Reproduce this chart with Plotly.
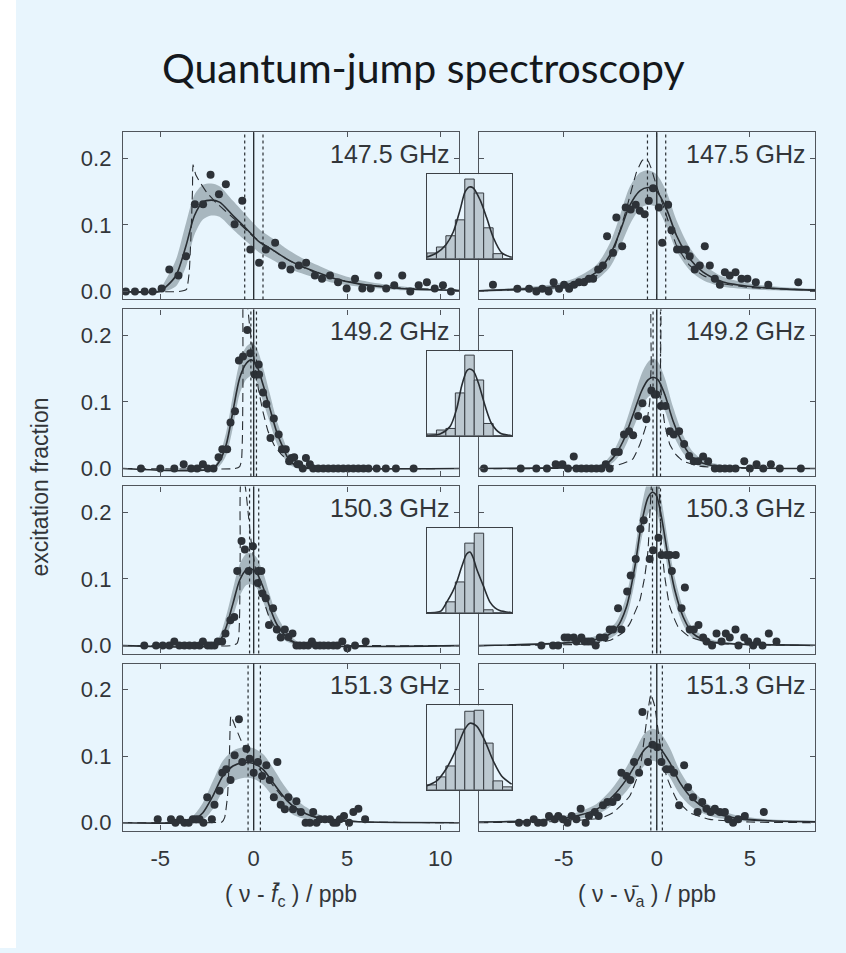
import plotly.graph_objects as go

W, H = 846, 953

# ---------------- data ----------------
FREQ_LABELS = ["147.5 GHz", "149.2 GHz", "150.3 GHz", "151.3 GHz"]
X_TICKS_LEFT = [-5, 0, 5, 10]
X_TICK_TEXT_LEFT = ["-5", "0", "5", "10"]
X_TICKS_RIGHT = [-5, 0, 5]
X_TICK_TEXT_RIGHT = ["-5", "0", "5"]
Y_TICKS = [0.0, 0.1, 0.2]
Y_TICK_TEXT = ["0.0", "0.1", "0.2"]

# ---- row 1 (147.5 GHz), left: cyclotron detuning ----
P1L_DOT_X = [-6.85, -6.36, -5.84, -5.41, -4.93, -4.52, -4.03, -3.62, -3.15, -2.71, -2.31, -1.86, -1.49, -1.02, -0.61, -0.18, 0.29, 0.65, 1.15, 1.52, 1.97, 2.42, 2.81, 3.28, 3.66, 4.09, 4.52, 4.98, 5.43, 5.82, 6.27, 6.67, 7.10, 7.53, 7.96, 8.39, 8.84, 9.28, 9.70, 10.14, 10.57]
P1L_DOT_Y = [0, 0, 0, 0, 0.0045, 0.033, 0.024, 0.053, 0.131, 0.131, 0.175, 0.146, 0.161, 0.101, 0.136, 0.063, 0.043, 0.063, 0.073, 0.039, 0.033, 0.039, 0.043, 0.024, 0.019, 0.024, 0.014, 0.0045, 0.019, 0.0045, 0.0045, 0.024, 0.0045, 0.0095, 0.024, 0, 0.0095, 0.014, 0.0045, 0.0095, 0]
P1L_FIT_X = [-7, -5.05, -4.70, -4.16, -3.62, -3.17, -2.72, -2.28, -1.83, -1.11, -0.39, 0.32, 1.04, 1.76, 2.47, 3.37, 4.27, 5.16, 6.06, 6.95, 7.85, 9.64, 11]
P1L_FIT_Y = [0, 0, 0.007, 0.024, 0.069, 0.114, 0.134, 0.137, 0.134, 0.114, 0.094, 0.074, 0.062, 0.049, 0.039, 0.029, 0.020, 0.014, 0.0095, 0.007, 0.0045, 0.0025, 0.0015]
P1L_BAND_HI = [0, 0.004, 0.018, 0.048, 0.103, 0.145, 0.16, 0.162, 0.158, 0.136, 0.114, 0.093, 0.079, 0.064, 0.052, 0.040, 0.029, 0.021, 0.015, 0.011, 0.008, 0.004, 0.003]
P1L_BAND_LO = [0, 0, 0.001, 0.008, 0.038, 0.085, 0.108, 0.114, 0.112, 0.093, 0.075, 0.058, 0.047, 0.036, 0.028, 0.020, 0.013, 0.009, 0.006, 0.004, 0.002, 0.001, 0.0005]
P1L_DASH_X = [-7, -4.0, -3.6, -3.45, -3.35, -3.28, -3.25, -3.1, -2.9, -2.5, -2.0, -1.0, 0, 1, 2, 3, 4, 5, 6, 8, 11]
P1L_DASH_Y = [0, 0, 0.003, 0.03, 0.09, 0.15, 0.19, 0.175, 0.165, 0.148, 0.133, 0.108, 0.082, 0.062, 0.045, 0.032, 0.022, 0.015, 0.010, 0.005, 0.002]

# ---- row 1, right: axial detuning ----
P1R_DOT_X = [-8.80, -7.49, -6.86, -6.47, -6.15, -5.81, -5.54, -5.25, -4.98, -4.71, -4.44, -4.18, -3.91, -3.64, -3.42, -3.15, -2.89, -2.67, -2.35, -2.17, -1.86, -1.67, -1.40, -1.13, -0.91, -0.65, -0.43, -0.20, 0.11, 0.29, 0.61, 0.79, 1.09, 1.33, 1.56, 1.77, 2.04, 2.31, 2.58, 2.85, 3.12, 3.39, 3.66, 3.92, 4.23, 4.55, 4.87, 5.32, 5.99, 7.60]
P1R_DOT_Y = [0.010, 0.004, 0.004, 0, 0.004, 0, 0.014, 0.004, 0.010, 0.004, 0.010, 0.014, 0.014, 0.019, 0.019, 0.033, 0.039, 0.083, 0.058, 0.111, 0.068, 0.126, 0.123, 0.130, 0.121, 0.116, 0.136, 0.155, 0.126, 0.073, 0.130, 0.092, 0.063, 0.063, 0.063, 0.053, 0.033, 0.039, 0.068, 0.039, 0.019, 0.010, 0.029, 0.024, 0.029, 0.019, 0.019, 0.014, 0.010, 0.014]
P1R_FIT_X = [-9.55, -7.37, -5.57, -4.32, -3.24, -2.53, -1.99, -1.45, -0.91, -0.47, -0.02, 0.52, 1.06, 1.77, 2.49, 3.57, 5.18, 6.97, 8.5]
P1R_FIT_Y = [0.001, 0.0035, 0.007, 0.0144, 0.029, 0.054, 0.089, 0.129, 0.151, 0.156, 0.151, 0.124, 0.084, 0.049, 0.029, 0.0144, 0.007, 0.0035, 0.002]
P1R_BAND_HI = [0.002, 0.006, 0.011, 0.021, 0.040, 0.072, 0.113, 0.157, 0.178, 0.182, 0.176, 0.150, 0.107, 0.066, 0.041, 0.022, 0.011, 0.006, 0.004]
P1R_BAND_LO = [0, 0.001, 0.003, 0.008, 0.018, 0.036, 0.065, 0.100, 0.124, 0.130, 0.126, 0.098, 0.061, 0.032, 0.017, 0.007, 0.003, 0.001, 0.0005]
P1R_DASH_X = [-9.55, -6, -4.5, -3.5, -2.9, -2.35, -1.63, -1.09, -0.8, -0.62, -0.45, -0.29, -0.02, 0.52, 1.06, 1.77, 2.49, 3.5, 5, 8.5]
P1R_DASH_Y = [0.001, 0.004, 0.009, 0.018, 0.032, 0.059, 0.124, 0.179, 0.196, 0.2, 0.195, 0.184, 0.159, 0.114, 0.069, 0.039, 0.024, 0.012, 0.006, 0.002]

# ---- row 2 (149.2 GHz), left ----
P2L_DOT_X = [-6.04, -5.0, -4.25, -3.75, -3.35, -3.03, -2.72, -2.46, -2.15, -1.88, -1.68, -1.42, -1.24, -1.00, -0.79, -0.57, -0.34, -0.18, 0.05, 0.27, 0.29, 0.50, 0.68, 0.90, 1.08, 1.34, 1.52, 1.72, 1.90, 2.03, 2.17, 2.35, 2.44, 2.63, 2.80, 3.01, 3.19, 3.46, 3.73, 4.0, 4.27, 4.53, 4.80, 5.07, 5.34, 5.61, 5.88, 6.15, 6.59, 7.08, 7.62, 8.57]
P2L_DOT_Y = [0, 0, 0, 0.0065, 0, 0, 0.0065, 0, 0, 0.017, 0.029, 0.029, 0.069, 0.086, 0.162, 0.168, 0.208, 0.173, 0.141, 0.156, 0.141, 0.114, 0.097, 0.046, 0.075, 0.051, 0.029, 0.029, 0.011, 0.016, 0.017, 0.0065, 0.0065, 0, 0.016, 0.0065, 0, 0, 0, 0, 0, 0, 0, 0, 0, 0, 0, 0, 0, 0, 0, 0]
P2L_FIT_X = [-7, -2.19, -1.83, -1.47, -1.11, -0.75, -0.39, -0.13, 0.14, 0.50, 0.86, 1.22, 1.58, 1.94, 2.47, 3.2, 11]
P2L_FIT_Y = [0, 0, 0.011, 0.036, 0.086, 0.136, 0.158, 0.163, 0.156, 0.126, 0.091, 0.056, 0.031, 0.011, 0.0015, 0, 0]
P2L_BAND_HI = [0, 0.002, 0.02, 0.055, 0.11, 0.16, 0.183, 0.188, 0.182, 0.152, 0.113, 0.074, 0.045, 0.020, 0.005, 0, 0]
P2L_BAND_LO = [0, 0, 0.004, 0.020, 0.062, 0.112, 0.134, 0.139, 0.131, 0.101, 0.070, 0.039, 0.018, 0.005, 0, 0, 0]
P2L_DASH_X = [-7, -1.0, -0.75, -0.65, -0.6, -0.57, -0.55, -0.4, -0.2, 0.0, 0.25, 0.5, 0.77, 1.1, 1.49, 2.0, 2.8, 11]
P2L_DASH_Y = [0, 0, 0.003, 0.012, 0.05, 0.15, 0.27, 0.26, 0.21, 0.17, 0.12, 0.085, 0.056, 0.035, 0.021, 0.009, 0.002, 0]

# ---- row 2, right ----
P2R_DOT_X = [-9.28, -7.31, -6.47, -5.90, -5.43, -5.07, -4.77, -4.46, -4.32, -4.05, -3.78, -3.51, -3.24, -2.97, -2.74, -2.53, -2.26, -2.04, -1.76, -1.49, -1.27, -1.0, -0.77, -0.56, -0.29, -0.11, -0.02, 0.22, 0.47, 0.70, 0.91, 1.20, 1.47, 1.74, 1.99, 2.22, 2.49, 2.76, 3.12, 3.39, 3.66, 3.92, 4.23, 4.70, 5.0, 5.36, 5.72, 6.13, 6.61, 7.74]
P2R_DOT_Y = [0, 0, 0, 0, 0.0065, 0.0065, 0, 0.018, 0, 0, 0, 0, 0, 0, 0.0065, 0, 0.025, 0.025, 0.051, 0.056, 0.050, 0.079, 0.098, 0.074, 0.117, 0.111, 0.111, 0.094, 0.094, 0.056, 0.051, 0.056, 0.037, 0.019, 0.011, 0.011, 0.018, 0.011, 0, 0, 0, 0, 0, 0.011, 0, 0.0065, 0, 0.0065, 0, 0]
P2R_FIT_X = [-9.55, -5, -3.5, -2.89, -2.35, -1.81, -1.27, -0.82, -0.47, -0.2, 0.07, 0.43, 0.88, 1.42, 1.95, 2.67, 4.28, 8.5]
P2R_FIT_Y = [0, 0.001, 0.002, 0.004, 0.016, 0.041, 0.081, 0.116, 0.133, 0.137, 0.133, 0.111, 0.071, 0.036, 0.016, 0.0065, 0.0015, 0]
P2R_BAND_HI = [0, 0.002, 0.004, 0.008, 0.025, 0.057, 0.103, 0.142, 0.160, 0.165, 0.160, 0.136, 0.092, 0.050, 0.025, 0.011, 0.003, 0]
P2R_BAND_LO = [0, 0, 0.001, 0.002, 0.009, 0.027, 0.060, 0.091, 0.107, 0.111, 0.107, 0.087, 0.051, 0.023, 0.008, 0.003, 0.0005, 0]
P2R_DASH_X = [-9.55, -3, -2, -1.3, -0.91, -0.56, -0.38, -0.3, -0.25, 0.15, 0.2, 0.25, 0.43, 0.70, 1.0, 1.42, 2.2, 3.5, 8.5]
P2R_DASH_Y = [0, 0.001, 0.006, 0.014, 0.036, 0.066, 0.10, 0.16, 0.27, 0.27, 0.15, 0.106, 0.066, 0.036, 0.022, 0.011, 0.004, 0.001, 0]

# ---- row 3 (150.3 GHz), left ----
P3L_DOT_X = [-5.86, -5.23, -4.87, -4.52, -4.25, -3.98, -3.71, -3.44, -3.17, -2.90, -2.72, -2.46, -2.28, -2.10, -1.92, -1.69, -1.51, -1.25, -1.04, -0.88, -0.65, -0.47, -0.27, -0.04, 0.23, 0.41, 0.22, 0.47, 0.65, 0.82, 1.04, 1.24, 1.45, 1.67, 1.86, 2.08, 2.29, 2.47, 2.69, 2.92, 3.12, 3.33, 3.55, 3.76, 4.0, 4.27, 4.48, 4.75, 5.02, 5.43, 6.0]
P3L_DOT_Y = [0, 0, 0, 0, 0.006, 0, 0, 0, 0, 0, 0.006, 0, 0, 0, 0.006, 0.006, 0.018, 0.038, 0.043, 0.112, 0.157, 0.144, 0.112, 0.149, 0.112, 0.112, 0.094, 0.078, 0.071, 0.031, 0.056, 0.024, 0.012, 0.024, 0.013, 0.018, 0, 0, 0, 0, 0.006, 0, 0, 0, 0, 0, 0, 0.006, -0.004, 0, 0.006]
P3L_FIT_X = [-7, -2.19, -1.83, -1.47, -1.11, -0.75, -0.39, -0.13, 0.14, 0.50, 0.86, 1.22, 1.76, 2.29, 2.83, 11]
P3L_FIT_Y = [0, 0, 0.006, 0.028, 0.063, 0.098, 0.114, 0.115, 0.110, 0.088, 0.058, 0.033, 0.013, 0.0035, 0, 0]
P3L_BAND_HI = [0, 0.002, 0.014, 0.045, 0.085, 0.122, 0.138, 0.139, 0.133, 0.110, 0.077, 0.047, 0.021, 0.007, 0.001, 0]
P3L_BAND_LO = [0, 0, 0.002, 0.014, 0.043, 0.074, 0.091, 0.092, 0.087, 0.066, 0.040, 0.020, 0.006, 0.001, 0, 0]
P3L_DASH_X = [-7, -1.2, -0.9, -0.8, -0.75, -0.72, -0.68, -0.5, -0.3, -0.13, 0.1, 0.4, 0.8, 1.2, 1.7, 2.5, 11]
P3L_DASH_Y = [0, 0, 0.003, 0.012, 0.05, 0.15, 0.245, 0.245, 0.2, 0.155, 0.115, 0.08, 0.045, 0.025, 0.01, 0.002, 0]

# ---- row 3, right ----
P3R_DOT_X = [-6.20, -5.57, -5.30, -4.95, -4.77, -4.46, -4.32, -4.05, -3.87, -3.69, -3.51, -3.28, -3.06, -2.80, -2.53, -2.35, -2.08, -1.90, -1.59, -1.40, -1.13, -0.88, -0.70, -0.38, -0.20, 0.09, 0.25, 0.52, 0.70, 1.02, 0.81, 1.51, 1.33, 1.77, 1.99, 2.24, 2.49, 2.67, 2.97, 3.21, 3.48, 3.71, 3.92, 4.23, 4.39, 4.70, 4.91, 5.18, 5.39, 5.68, 6.02, 6.43]
P3R_DOT_Y = [0, 0, 0, 0.012, 0.012, 0.012, 0.006, 0.012, 0.006, 0.006, 0.006, 0, 0.012, 0.012, 0.024, 0.024, 0.056, 0.024, 0.081, 0.105, 0.130, 0.175, 0.188, 0.130, 0.143, 0.162, 0.136, 0.136, 0.136, 0.136, 0.112, 0.087, 0.056, 0.024, 0.024, 0.031, 0.012, 0.006, 0, 0.018, 0.006, 0.018, 0.012, 0.024, 0, 0.012, 0.006, 0, 0.006, 0, 0.018, 0.006]
P3R_FIT_X = [-9.55, -4.68, -2.89, -2.17, -1.63, -1.18, -0.82, -0.47, -0.23, -0.02, 0.25, 0.61, 0.97, 1.42, 1.95, 2.85, 4.28, 8.5]
P3R_FIT_Y = [0, 0.0045, 0.012, 0.026, 0.058, 0.118, 0.183, 0.222, 0.23, 0.225, 0.193, 0.133, 0.083, 0.043, 0.018, 0.006, 0.0025, 0.0005]
P3R_BAND_HI = [0.001, 0.007, 0.018, 0.036, 0.075, 0.142, 0.208, 0.248, 0.256, 0.25, 0.218, 0.156, 0.102, 0.056, 0.026, 0.010, 0.004, 0.001]
P3R_BAND_LO = [0, 0.002, 0.007, 0.017, 0.043, 0.096, 0.160, 0.198, 0.205, 0.200, 0.170, 0.112, 0.066, 0.031, 0.011, 0.003, 0.001, 0]
P3R_DASH_X = [-9.55, -4, -2.5, -1.8, -1.45, -0.91, -0.65, -0.47, -0.38, -0.29, -0.2, 0.0, 0.15, 0.25, 0.43, 0.70, 1.15, 1.77, 3, 8.5]
P3R_DASH_Y = [0, 0.002, 0.008, 0.02, 0.033, 0.068, 0.103, 0.143, 0.193, 0.24, 0.28, 0.28, 0.22, 0.153, 0.103, 0.058, 0.028, 0.013, 0.004, 0]

# ---- row 4 (151.3 GHz), left ----
P4L_DOT_X = [-5.14, -4.43, -4.19, -3.94, -3.71, -3.48, -3.26, -3.08, -2.90, -2.69, -2.49, -2.24, -2.10, -1.83, -1.68, -1.47, -1.24, -1.02, -0.79, -0.61, -0.39, -0.22, 0, 0.23, 0.45, 0.68, 0.86, 1.08, 1.27, 1.45, 1.67, 1.86, 2.11, 2.29, 2.53, 2.78, 3.01, 3.19, 3.37, 3.55, 3.82, 4.09, 4.27, 4.44, 4.62, 4.84, 5.11, 5.34, 5.61, 5.97]
P4L_DOT_Y = [0.005, 0.005, 0, 0.005, 0, 0, 0.005, 0.005, 0.005, 0, 0.038, 0.005, 0.027, 0.048, 0.075, 0.080, 0.064, 0.101, 0.155, 0.091, 0.111, 0.096, 0.075, 0.091, 0.070, 0.086, 0.064, 0.038, 0.091, 0.027, 0.020, 0.038, 0.020, 0.032, 0.016, 0, 0, 0.016, 0, 0.005, 0.005, 0.005, 0, 0, 0.005, 0.010, 0, 0.016, 0.021, 0.005]
P4L_FIT_X = [-7, -3.8, -3.26, -2.72, -2.19, -1.65, -1.11, -0.57, -0.04, 0.50, 1.04, 1.58, 2.11, 2.83, 3.55, 4.62, 6.06, 11]
P4L_FIT_Y = [0, 0, 0.003, 0.015, 0.040, 0.070, 0.085, 0.090, 0.089, 0.080, 0.060, 0.040, 0.025, 0.013, 0.0065, 0.003, 0.001, 0]
P4L_BAND_HI = [0, 0.003, 0.010, 0.030, 0.062, 0.093, 0.108, 0.113, 0.112, 0.103, 0.082, 0.058, 0.039, 0.023, 0.012, 0.005, 0.002, 0]
P4L_BAND_LO = [0, 0, 0, 0.004, 0.020, 0.047, 0.062, 0.067, 0.066, 0.057, 0.039, 0.023, 0.012, 0.005, 0.002, 0.001, 0, 0]
P4L_DASH_X = [-7, -2.5, -1.7, -1.55, -1.4, -1.3, -1.22, -1.0, -0.7, -0.4, 0, 0.5, 1.0, 1.5, 2.0, 3, 4, 6, 11]
P4L_DASH_Y = [0, 0, 0.001, 0.008, 0.04, 0.1, 0.16, 0.145, 0.125, 0.108, 0.09, 0.074, 0.057, 0.04, 0.027, 0.011, 0.005, 0.001, 0]

# ---- row 4, right ----
P4R_DOT_X = [-7.40, -6.97, -6.61, -6.38, -6.08, -5.79, -5.48, -5.29, -5.04, -4.80, -4.57, -4.32, -4.09, -3.82, -3.64, -3.33, -3.12, -2.89, -2.65, -2.38, -2.13, -1.90, -1.63, -1.42, -1.22, -0.95, -0.77, -0.47, -0.23, 0.02, 0.25, 0.52, 0.75, 0.93, 1.20, 1.47, 1.68, 1.95, 2.19, 2.44, 2.67, 2.89, 3.12, 3.39, 3.66, 3.84, 4.10, 4.37, 4.73, 5.75]
P4R_DOT_Y = [0, 0, 0.005, 0, 0, 0.010, 0.005, 0.010, 0.005, 0, 0.010, 0.005, 0.021, 0, 0.010, 0.016, 0.010, 0.026, 0.031, 0.031, 0.038, 0.075, 0.070, 0.064, 0.091, 0.075, 0.166, 0.091, 0.117, 0.113, 0.091, 0.080, 0.080, 0.075, 0.026, 0.086, 0.053, 0.038, 0.016, 0.031, 0.021, 0.016, 0.021, 0.016, 0.016, 0.005, 0, 0.005, 0.010, 0.016]
P4R_FIT_X = [-9.55, -6.47, -4.68, -3.24, -2.35, -1.63, -1.09, -0.65, -0.23, 0.16, 0.70, 1.24, 1.95, 2.85, 4.28, 6.08, 8.5]
P4R_FIT_Y = [0.001, 0.003, 0.008, 0.020, 0.040, 0.065, 0.090, 0.110, 0.117, 0.112, 0.090, 0.060, 0.035, 0.018, 0.0065, 0.003, 0.0015]
P4R_BAND_HI = [0.002, 0.005, 0.012, 0.028, 0.053, 0.083, 0.112, 0.134, 0.141, 0.136, 0.112, 0.078, 0.048, 0.026, 0.011, 0.005, 0.003]
P4R_BAND_LO = [0, 0.001, 0.004, 0.012, 0.027, 0.047, 0.068, 0.086, 0.093, 0.088, 0.068, 0.042, 0.022, 0.010, 0.003, 0.001, 0.0005]
P4R_DASH_X = [-9.55, -5, -3, -2.35, -1.45, -0.91, -0.56, -0.32, -0.11, 0.16, 0.52, 1.06, 1.77, 2.85, 5, 8.5]
P4R_DASH_Y = [0, 0.002, 0.007, 0.015, 0.040, 0.080, 0.150, 0.192, 0.175, 0.12, 0.07, 0.035, 0.015, 0.005, 0.001, 0]

# dotted uncertainty markers around zero (lower, upper) for each row
DOTTED_LEFT = [(-0.48, 0.50), (-0.15, 0.15), (-0.22, 0.27), (-0.30, 0.36)]
DOTTED_RIGHT = [(-0.50, 0.48), (-0.20, 0.20), (-0.23, 0.20), (-0.32, 0.30)]

# inset histograms (9 bins, arbitrary height units) and their Gaussian curves
HIST_BINS = [0, 1, 2, 3, 4, 5, 6, 7, 8]
HIST1 = [5.7, 11.7, 23, 39, 80, 66, 31, 5, 0]
HIST2 = [1.7, 5.7, 7.3, 43, 81, 56, 12.3, 0, 0]
HIST3 = [0, 0, 11, 31, 70, 80, 3, 0, 0]
HIST4 = [5, 13, 24, 61, 79, 80, 47, 9, 3]
GAUSS1_X = [-0.47, 0.52, 1.51, 2.29, 3.0, 3.53, 3.98, 4.41, 5.12, 5.82, 6.53, 7.42, 8.48]
GAUSS1_Y = [1.7, 5.7, 14, 27, 49, 67, 72, 71, 59, 41, 21, 5.7, 1.3]
GAUSS2_X = [-0.48, 0.88, 1.94, 2.64, 3.17, 3.70, 3.98, 4.41, 4.94, 5.65, 6.35, 7.23, 8.47]
GAUSS2_Y = [0, 1.7, 9.3, 27, 50, 65, 67, 65, 53, 30, 12, 2.7, 0]
GAUSS3_X = [-0.5, 0.5, 1.0, 1.59, 2.2, 2.65, 3.2, 3.7, 4.05, 4.4, 4.76, 5.47, 6.17, 6.7, 7.2, 8.5]
GAUSS3_Y = [0, 0.5, 2, 10.7, 21, 31, 47, 59, 61, 55, 44, 27, 10.7, 5, 2.3, 0]
GAUSS4_X = [-0.5, 0.53, 1.59, 2.65, 3.5, 4.05, 4.76, 5.64, 6.52, 7.4, 8.47]
GAUSS4_Y = [4, 9, 22, 42, 61, 67, 64, 49, 29, 14, 5.7]

# ---------------- styling / layout ----------------
BG = "rgb(232,245,253)"
BAND = "rgb(168,183,191)"
INK = "rgb(40,45,50)"
DOT = "rgb(45,50,56)"
FRAME = "rgb(80,85,92)"
TXT = "rgb(50,53,57)"
FONT = "Liberation Sans, Arial, Helvetica, sans-serif"

PANEL_TOPS = [133, 311, 489, 667]
PANEL_H = 168
COL_X = [(123, 459), (479, 815)]
XRANGES = [[-7.0, 11.0], [-9.55, 8.5]]
YRANGE = [-0.0119, 0.2388]
INSET_X = (427, 512)
INSET_OFF = 42
INSET_H = 85

ROWS = [
    [(P1L_DOT_X, P1L_DOT_Y, P1L_FIT_X, P1L_FIT_Y, P1L_BAND_HI, P1L_BAND_LO, P1L_DASH_X, P1L_DASH_Y),
     (P1R_DOT_X, P1R_DOT_Y, P1R_FIT_X, P1R_FIT_Y, P1R_BAND_HI, P1R_BAND_LO, P1R_DASH_X, P1R_DASH_Y)],
    [(P2L_DOT_X, P2L_DOT_Y, P2L_FIT_X, P2L_FIT_Y, P2L_BAND_HI, P2L_BAND_LO, P2L_DASH_X, P2L_DASH_Y),
     (P2R_DOT_X, P2R_DOT_Y, P2R_FIT_X, P2R_FIT_Y, P2R_BAND_HI, P2R_BAND_LO, P2R_DASH_X, P2R_DASH_Y)],
    [(P3L_DOT_X, P3L_DOT_Y, P3L_FIT_X, P3L_FIT_Y, P3L_BAND_HI, P3L_BAND_LO, P3L_DASH_X, P3L_DASH_Y),
     (P3R_DOT_X, P3R_DOT_Y, P3R_FIT_X, P3R_FIT_Y, P3R_BAND_HI, P3R_BAND_LO, P3R_DASH_X, P3R_DASH_Y)],
    [(P4L_DOT_X, P4L_DOT_Y, P4L_FIT_X, P4L_FIT_Y, P4L_BAND_HI, P4L_BAND_LO, P4L_DASH_X, P4L_DASH_Y),
     (P4R_DOT_X, P4R_DOT_Y, P4R_FIT_X, P4R_FIT_Y, P4R_BAND_HI, P4R_BAND_LO, P4R_DASH_X, P4R_DASH_Y)],
]
DOTTED = [DOTTED_LEFT, DOTTED_RIGHT]
HISTS = [HIST1, HIST2, HIST3, HIST4]
GAUSS = [(GAUSS1_X, GAUSS1_Y), (GAUSS2_X, GAUSS2_Y), (GAUSS3_X, GAUSS3_Y), (GAUSS4_X, GAUSS4_Y)]


def ax_names(n):
    return ("x" if n == 1 else f"x{n}", "y" if n == 1 else f"y{n}",
            "xaxis" if n == 1 else f"xaxis{n}", "yaxis" if n == 1 else f"yaxis{n}")


fig = go.Figure()
layout_axes = {}
shapes = []
annotations = []

tick_font = dict(family=FONT, size=22, color=TXT)

for r in range(4):
    top = PANEL_TOPS[r]
    ydom = [1 - (top + PANEL_H) / H, 1 - top / H]
    for c in range(2):
        n = 2 * r + c + 1
        xa, ya, xk, yk = ax_names(n)
        x0, x1 = COL_X[c]
        layout_axes[xk] = dict(
            domain=[x0 / W, x1 / W], range=XRANGES[c], anchor=ya,
            tickvals=X_TICKS_LEFT if c == 0 else X_TICKS_RIGHT,
            ticktext=X_TICK_TEXT_LEFT if c == 0 else X_TICK_TEXT_RIGHT,
            showticklabels=(r == 3), ticks="inside", ticklen=5, tickwidth=1,
            tickcolor=FRAME, showline=True, linecolor=FRAME, linewidth=1.3,
            mirror="ticks", showgrid=False, zeroline=False, tickfont=tick_font,
            ticklabelstandoff=8,
        )
        layout_axes[yk] = dict(
            domain=ydom, range=YRANGE, anchor=xa,
            tickvals=Y_TICKS, ticktext=Y_TICK_TEXT,
            showticklabels=(c == 0), ticks="inside", ticklen=5, tickwidth=1,
            tickcolor=FRAME, showline=True, linecolor=FRAME, linewidth=1.3,
            mirror="ticks", showgrid=False, zeroline=False, tickfont=tick_font,
            ticklabelstandoff=6,
        )
        dx, dy, fx, fy, bh, bl, sx, sy = ROWS[r][c]
        fig.add_trace(go.Scatter(x=fx, y=bl, xaxis=xa, yaxis=ya, mode="lines",
                                 line=dict(width=0, shape="spline", smoothing=0.8),
                                 hoverinfo="skip", showlegend=False))
        fig.add_trace(go.Scatter(x=fx, y=bh, xaxis=xa, yaxis=ya, mode="lines",
                                 line=dict(width=0, shape="spline", smoothing=0.8),
                                 fill="tonexty", fillcolor=BAND,
                                 hoverinfo="skip", showlegend=False))
        fig.add_trace(go.Scatter(x=sx, y=sy, xaxis=xa, yaxis=ya, mode="lines",
                                 line=dict(width=1.1, color=INK, dash="9px,5px",
                                           shape="spline", smoothing=0.4),
                                 showlegend=False))
        fig.add_trace(go.Scatter(x=fx, y=fy, xaxis=xa, yaxis=ya, mode="lines",
                                 line=dict(width=1.6, color=INK, shape="spline", smoothing=0.8),
                                 showlegend=False))
        fig.add_trace(go.Scatter(x=dx, y=dy, xaxis=xa, yaxis=ya, mode="markers",
                                 marker=dict(size=8, color=DOT), showlegend=False))
        # vertical reference lines
        shapes.append(dict(type="line", xref=xa, yref=f"{ya} domain", x0=0, x1=0, y0=0, y1=1,
                           line=dict(color=INK, width=1.4)))
        for xv in DOTTED[c][r]:
            shapes.append(dict(type="line", xref=xa, yref=f"{ya} domain", x0=xv, x1=xv, y0=0, y1=1,
                               line=dict(color=INK, width=1.2, dash="dot")))
        annotations.append(dict(text=FREQ_LABELS[r], xref=f"{xa} domain", yref=ya,
                                x=0.978, y=0.207, xanchor="right", yanchor="middle",
                                showarrow=False, font=dict(family=FONT, size=25, color=TXT)))

# insets (drawn last so they sit on top of both columns)
for r in range(4):
    n = 9 + r
    xa, ya, xk, yk = ax_names(n)
    itop = PANEL_TOPS[r] + INSET_OFF
    layout_axes[xk] = dict(domain=[INSET_X[0] / W, INSET_X[1] / W], range=[-0.5, 8.5], anchor=ya,
                           showline=True, mirror=True, linecolor="rgb(60,65,70)", linewidth=1.2,
                           showticklabels=False, ticks="", showgrid=False, zeroline=False)
    layout_axes[yk] = dict(domain=[1 - (itop + INSET_H) / H, 1 - itop / H], range=[0, 85], anchor=xa,
                           showline=True, mirror=True, linecolor="rgb(60,65,70)", linewidth=1.2,
                           showticklabels=False, ticks="", showgrid=False, zeroline=False)
    fig.add_trace(go.Bar(x=HIST_BINS, y=HISTS[r], width=1, xaxis=xa, yaxis=ya,
                         marker=dict(color="rgb(188,200,208)", line=dict(color="rgb(55,60,66)", width=1)),
                         showlegend=False))
    gx, gy = GAUSS[r]
    fig.add_trace(go.Scatter(x=gx, y=gy, xaxis=xa, yaxis=ya, mode="lines",
                             line=dict(color=INK, width=1.6, shape="spline", smoothing=0.8),
                             showlegend=False))

# white strip on the left edge
shapes.append(dict(type="rect", xref="paper", yref="paper", x0=0, x1=16 / W, y0=0, y1=1,
                   fillcolor="white", line=dict(width=0), layer="below"))

annotations += [
    dict(text="Quantum-jump spectroscopy", xref="paper", yref="paper", x=423 / W, y=1 - 68 / H,
         xanchor="center", yanchor="middle", showarrow=False,
         font=dict(family="Lato, Open Sans, sans-serif", size=41, color="rgb(20,24,28)")),
    dict(text="excitation fraction", xref="paper", yref="paper", x=40 / W, y=1 - 490 / H,
         textangle=-90, xanchor="center", yanchor="middle", showarrow=False,
         font=dict(family=FONT, size=23, color=TXT)),
    dict(text="( ν - <i>f\u0304</i><sub>c</sub> ) / ppb", xref="paper", yref="paper",
         x=291 / W, y=1 - 900 / H, xanchor="center", yanchor="middle", showarrow=False,
         font=dict(family=FONT, size=23, color=TXT)),
    dict(text="( ν - ν\u0304<sub>a</sub> ) / ppb", xref="paper", yref="paper",
         x=647 / W, y=1 - 900 / H, xanchor="center", yanchor="middle", showarrow=False,
         font=dict(family=FONT, size=23, color=TXT)),
]

fig.update_layout(
    width=W, height=H, margin=dict(l=0, r=0, t=0, b=0),
    paper_bgcolor=BG, plot_bgcolor=BG, showlegend=False,
    shapes=shapes, annotations=annotations, **layout_axes,
)

fig.write_html("out.html")
